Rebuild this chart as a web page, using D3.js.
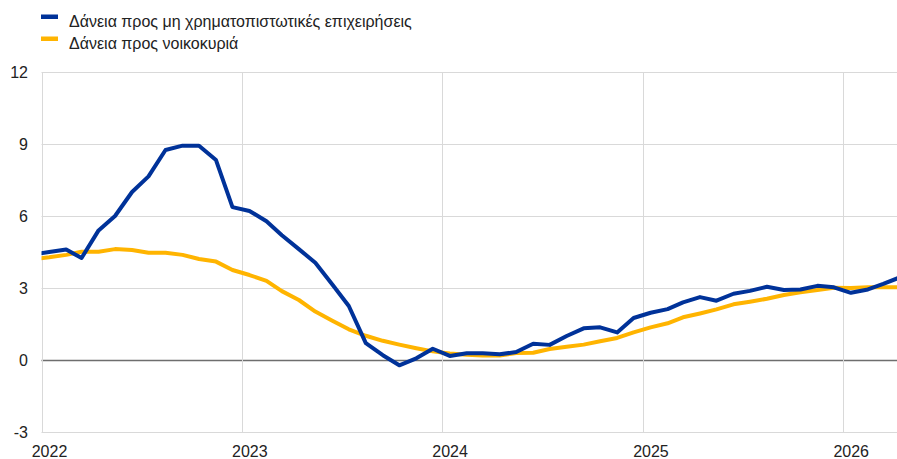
<!DOCTYPE html>
<html>
<head>
<meta charset="utf-8">
<script src="https://cdn.jsdelivr.net/npm/d3@7"></script>
<style>
  body { margin: 0; background: #fff; }
  svg text { font-family: "Liberation Sans", Arial, sans-serif; fill: #222; }
</style>
</head>
<body>
<div id="chart"></div>
<script>
// monthly points, mid-month, Dec 2021 .. Apr 2026
const startMonth = new Date(2021, 11, 15);
const seriesNames = [
  'Δάνεια προς μη χρηματοπιστωτικές επιχειρήσεις',
  'Δάνεια προς νοικοκυριά'
];
const firmLoans = [
  4.4, 4.5, 4.6, 4.25, 5.4, 6.0, 7.0, 7.65, 8.75, 8.93, 8.93, 8.33, 6.37,
  6.21, 5.78, 5.2, 4.62, 4.05, 3.15, 2.25, 0.7, 0.2, -0.22, 0.07, 0.47,
  0.17, 0.28, 0.28, 0.24, 0.33, 0.68, 0.63, 1.0, 1.32, 1.36, 1.15, 1.75,
  1.97, 2.12, 2.4, 2.62, 2.47, 2.76, 2.88, 3.05, 2.92, 2.94, 3.09, 3.03,
  2.8, 2.94, 3.17, 3.45
];
const householdLoans = [
  4.2, 4.28, 4.38, 4.51, 4.51, 4.62, 4.58, 4.47, 4.47, 4.38, 4.21, 4.1, 3.75,
  3.54, 3.3, 2.87, 2.5, 2.02, 1.64, 1.28, 1.01, 0.8, 0.64, 0.49, 0.36,
  0.27, 0.22, 0.19, 0.19, 0.29, 0.3, 0.46, 0.55, 0.64, 0.78, 0.92, 1.15,
  1.36, 1.53, 1.78, 1.94, 2.11, 2.32, 2.43, 2.55, 2.71, 2.82, 2.92, 3.01,
  3.0, 3.03, 3.03, 3.03
];
const yTicks = [-3, 0, 3, 6, 9, 12];
const xTickYears = [2022, 2023, 2024, 2025, 2026];
const colors = ['#003299', '#ffb400'];

const width = 897, height = 459;
const margin = { top: 72, right: 0, bottom: 27, left: 41.5 };

const svg = d3.select('#chart')
  .append('svg')
  .attr('width', width)
  .attr('height', height);

const x = d3.scaleTime()
  .domain([new Date(2022, 0, 1), new Date(2026, 3, 9)])
  .range([margin.left, width - margin.right]);

const y = d3.scaleLinear()
  .domain([-3, 12])
  .range([height - margin.bottom, margin.top]);

const dates = firmLoans.map((d, i) => d3.timeMonth.offset(startMonth, i));

svg.append('defs').append('clipPath')
  .attr('id', 'plot-clip')
  .append('rect')
  .attr('x', margin.left)
  .attr('y', 0)
  .attr('width', width - margin.left)
  .attr('height', height);

// horizontal grid
svg.append('g')
  .selectAll('line')
  .data(yTicks)
  .enter()
  .append('line')
  .attr('x1', margin.left)
  .attr('x2', width)
  .attr('y1', d => Math.round(y(d)) + 0.5)
  .attr('y2', d => Math.round(y(d)) + 0.5)
  .attr('stroke', d => d === 0 ? '#6e6e6e' : '#d9d9d9')
  .attr('stroke-width', d => d === 0 ? 1.3 : 1);

// vertical grid at each year
svg.append('g')
  .selectAll('line')
  .data(xTickYears)
  .enter()
  .append('line')
  .attr('x1', d => Math.round(x(new Date(d, 0, 1))) + 0.5)
  .attr('x2', d => Math.round(x(new Date(d, 0, 1))) + 0.5)
  .attr('y1', y(12))
  .attr('y2', y(-3))
  .attr('stroke', '#d9d9d9');

// y labels
svg.append('g')
  .selectAll('text')
  .data(yTicks)
  .enter()
  .append('text')
  .attr('x', 28)
  .attr('y', d => y(d) + 6)
  .attr('text-anchor', 'end')
  .style('font-size', '16px')
  .text(d => d);

// x labels
svg.append('g')
  .selectAll('text')
  .data(xTickYears)
  .enter()
  .append('text')
  .attr('x', d => x(new Date(d, 0, 1)) + 8)
  .attr('y', 457)
  .attr('text-anchor', 'middle')
  .style('font-size', '16px')
  .text(d => d);

// lines
const line = d3.line()
  .x((d, i) => x(dates[i]))
  .y(d => y(d));

[firmLoans, householdLoans].slice().reverse().forEach((s, k) => {
  svg.append('path')
    .datum(s)
    .attr('clip-path', 'url(#plot-clip)')
    .attr('fill', 'none')
    .attr('stroke', colors[1 - k])
    .attr('stroke-width', 4)
    .attr('stroke-linejoin', 'round')
    .attr('d', line);
});

// legend
const legend = svg.append('g');
seriesNames.forEach((name, i) => {
  legend.append('rect')
    .attr('x', 41)
    .attr('y', 14.5 + i * 22)
    .attr('width', 17)
    .attr('height', 4.5)
    .attr('fill', colors[i]);
  legend.append('text')
    .attr('x', 69)
    .attr('y', 27 + i * 22)
    .style('font-size', '16px')
    .text(name);
});
</script>
</body>
</html>
